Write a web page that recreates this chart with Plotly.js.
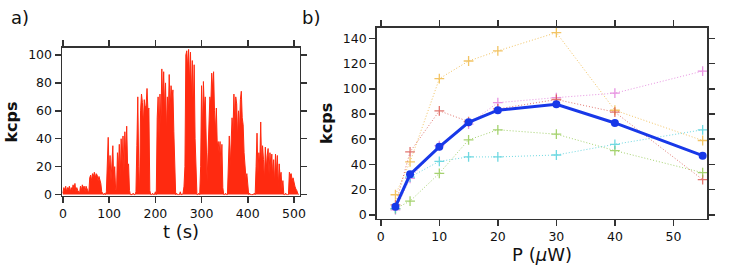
<!DOCTYPE html>
<html><head><meta charset="utf-8">
<script src="https://cdn.plot.ly/plotly-3.0.1.min.js"></script>
<style>body{margin:0;background:#fff}#c{width:747px;height:271px}</style>
</head><body><div id="c"></div>
<script>
// Panel a: time trace, sampled every 2 s from t = 0 to 510 s
const traceStep = 2;
const traceKcps = [
  1,5,3,6,2,  5,4,6,2,5,  3,7,4,8,2,  5,3,2,1,6,  3,7,5,6,2,
  6,4,3,1,12, 14,10,15,13,16, 12,15,14,10,13, 11,8,2,1,0, 1,0,2,20,41,
  14,28,10,24,35, 8,20,4,2,30, 18,36,12,40,22, 42,16,45,28,49, 20,22,3,0,0,
  0,1,0,0,2, 35,70,20,2,60, 72,66,50,68,62, 64,76,60,62,3, 0,0,1,0,0,
  2,0,55,70,40, 72,50,90,65,88, 60,80,45,70,55, 86,60,78,68,75, 45,10,0,1,0,
  0,0,2,0,0, 1,6,20,100,103, 90,104,80,102,70, 96,60,93,40,10, 0,0,1,0,20,
  78,45,81,60,70, 40,10,30,55,70, 65,87,75,88,60, 45,62,35,38,30, 38,20,36,5,0,
  0,1,0,0,30, 42,20,43,55,45, 72,50,70,65,40, 60,45,68,74,55, 50,30,15,12,15,
  3,0,1,0,0, 0,0,1,0,20, 44,15,30,22,52, 20,35,25,10,34, 18,28,33,15,30,
  20,29,12,25,8, 29,15,28,5,22, 12,16,4,10,0, 0,1,0,0,0, 16,14,15,10,12,
  8,6,4,3,1, 0
];
const traceTime = traceKcps.map((_, i) => i * traceStep);

// Panel b: count rate vs. excitation power
const powerUW = [2.5, 5, 10, 15, 20, 30, 40, 55];
const seriesYellow = [16, 42, 108, 122, 130, 144.5, 83, 59];
const seriesPink   = [4, 29, 55, 72, 89, 93, 96.5, 114];
const seriesRed    = [8, 50, 82.5, 74, 84, 91.5, 81.5, 28];
const seriesGreen  = [5, 11, 33, 59.5, 67.5, 64, 51, 33.5];
const seriesCyan   = [5, 30, 42.5, 46, 46, 47.5, 56, 67.5];
const seriesMean   = [6.6, 32.2, 54, 73.4, 83, 87.7, 72.9, 47];

const xTicksA = [0, 100, 200, 300, 400, 500];
const yTicksA = [0, 20, 40, 60, 80, 100];
const xTicksB = [0, 10, 20, 30, 40, 50];
const yTicksB = [0, 20, 40, 60, 80, 100, 120, 140];

const FONT = 'DejaVu Sans, sans-serif';

function dotted(y, color) {
  return {
    x: powerUW, y: y, xaxis: 'x2', yaxis: 'y2', type: 'scatter', mode: 'lines+markers',
    line: {color: color, width: 1, dash: '1px,2px'}, opacity: 0.75,
    marker: {symbol: 'cross-thin', size: 7, line: {color: color, width: 1.3}},
    hoverinfo: 'skip'
  };
}

const data = [
  {x: traceTime, y: traceKcps, type: 'scatter', mode: 'lines', fill: 'tozeroy',
   line: {color: '#ff2a10', width: 1}, fillcolor: '#ff2a10', xaxis: 'x', yaxis: 'y'},
  dotted(seriesYellow, '#eeb030'),
  dotted(seriesPink, '#e070d8'),
  dotted(seriesRed, '#d84a40'),
  dotted(seriesGreen, '#88c440'),
  dotted(seriesCyan, '#40ccd8'),
  {x: powerUW, y: seriesMean, xaxis: 'x2', yaxis: 'y2', type: 'scatter', mode: 'lines+markers',
   line: {color: '#1838e8', width: 3}, marker: {symbol: 'circle', size: 8, color: '#1838e8'}}
];

const axCommon = {
  showgrid: false, zeroline: false, showline: true, linecolor: '#333', linewidth: 1.5,
  mirror: 'ticks', ticks: 'outside', ticklen: 6, tickwidth: 1.5, tickcolor: '#333',
  tickfont: {family: FONT, size: 12.5, color: '#111'}, tickmode: 'array'
};

const layout = {
  width: 747, height: 271, margin: {l: 0, r: 0, t: 0, b: 0},
  paper_bgcolor: '#fff', plot_bgcolor: '#fff', showlegend: false,
  font: {family: FONT, color: '#111'},
  xaxis: Object.assign({}, axCommon, {domain: [0.083, 0.4016], range: [-2, 513], tickvals: xTicksA,
    title: {text: 't (s)', font: {family: FONT, size: 18}, standoff: 2}, anchor: 'y'}),
  yaxis: Object.assign({}, axCommon, {domain: [0.2768, 0.8229], range: [-1, 105], tickvals: yTicksA,
    title: {text: '<b>kcps</b>', font: {family: FONT, size: 16}, standoff: 6}, anchor: 'x'}),
  xaxis2: Object.assign({}, axCommon, {domain: [0.5043, 0.9469], range: [-0.7, 55.8], tickvals: xTicksB,
    title: {text: 'P (<i>μ</i>W)', font: {family: FONT, size: 18}, standoff: 2}, anchor: 'y2'}),
  yaxis2: Object.assign({}, axCommon, {domain: [0.1919, 0.8978], range: [-3.2, 148.4], tickvals: yTicksB,
    title: {text: '<b>kcps</b>', font: {family: FONT, size: 16}, standoff: 6}, anchor: 'x2'}),
  annotations: [
    {text: 'a)', x: 12, y: 18, xref: 'paper', yref: 'paper', showarrow: false, font: {family: FONT, size: 18}},
    {text: 'b)', x: 303, y: 18, xref: 'paper', yref: 'paper', showarrow: false, font: {family: FONT, size: 18}}
  ]
};
// convert pixel positions of panel labels to paper fraction
layout.annotations.forEach(a => { a.x = (a.x + 8) / 747; a.y = 1 - a.y / 271; a.xanchor = 'center'; a.yanchor = 'middle'; });

Plotly.newPlot('c', data, layout, {staticPlot: true});
</script>
</body></html>
